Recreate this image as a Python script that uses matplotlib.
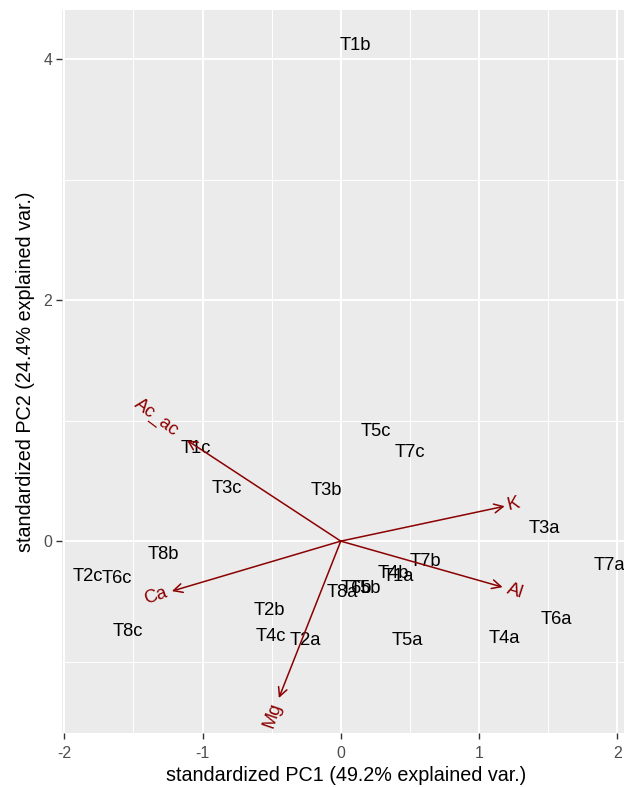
import numpy as np
import matplotlib
matplotlib.use("Agg")
import matplotlib.pyplot as plt

plt.rcParams['font.family'] = ['Liberation Sans', 'DejaVu Sans']
plt.rcParams['axes.unicode_minus'] = False

# Sample scores on the first two standardized principal components
samples = ["T1b", "T5c", "T7c", "T1c", "T3c", "T3b", "T3a", "T7a", "T8b", "T2c",
           "T6c", "T7b", "T4b", "T1a", "T6b", "T5b", "T8a", "T2b", "T4c", "T2a",
           "T8c", "T5a", "T4a", "T6a"]
pc1 = [0.108, 0.253, 0.499, -1.048, -0.824, -0.101, 1.475, 1.945, -1.287, -1.829,
       -1.620, 0.615, 0.383, 0.420, 0.110, 0.175, 0.014, -0.513, -0.506, -0.260,
       -1.540, 0.484, 1.186, 1.562]
pc2 = [4.116, 0.913, 0.739, 0.772, 0.440, 0.423, 0.108, -0.200, -0.108, -0.290,
       -0.307, -0.166, -0.266, -0.290, -0.390, -0.390, -0.423, -0.573, -0.788, -0.822,
       -0.747, -0.822, -0.805, -0.647]

# Variable loadings (arrow ends)
variables = ["Ac_ac", "Ca", "Mg", "K", "Al"]
load1 = [-1.113, -1.222, -0.448, 1.186, 1.171]
load2 = [0.838, -0.415, -1.303, 0.290, -0.382]

W, H = 624, 787
fig = plt.figure(figsize=(W / 100, H / 100), dpi=100)
ax = fig.add_axes([62 / W, (H - 733) / H, 569 / W, 723 / H])
ax.set_facecolor("#EBEBEB")
ax.set_xlim(-2.017, 2.1)
ax.set_ylim(-1.593, 4.41)

ax.set_xticks([-2, -1, 0, 1, 2])
ax.set_yticks([0, 2, 4])
ax.set_xticks([-1.5, -0.5, 0.5, 1.5], minor=True)
ax.set_yticks([-1, 1, 3], minor=True)
ax.grid(which="major", color="white", linewidth=1.4)
ax.grid(which="minor", color="white", linewidth=0.7)
ax.set_axisbelow(True)
for s in ax.spines.values():
    s.set_visible(False)
ax.tick_params(which="major", length=4, width=1, color="#333333",
               labelsize=11.4, labelcolor="#4D4D4D")
ax.tick_params(axis="x", which="major", pad=5)
ax.tick_params(axis="y", which="major", pad=3)
ax.tick_params(which="minor", length=0)

ax.set_xlabel("standardized PC1 (49.2% explained var.)", fontsize=14.2, labelpad=4)
ax.set_ylabel("standardized PC2 (24.4% explained var.)", fontsize=14.2, labelpad=6)

# Sample labels
for name, x, y in zip(samples, pc1, pc2):
    ax.text(x, y, name, ha="center", va="center", fontsize=13.2, color="black",
            clip_on=True)

# Loading arrows with rotated variable names
arrow_col = "#8B0000"
for name, x, y in zip(variables, load1, load2):
    ax.annotate("", xy=(x, y), xytext=(0, 0),
                arrowprops=dict(arrowstyle="->", color=arrow_col, lw=1.1,
                                mutation_scale=16, shrinkA=0, shrinkB=0))
    ang = np.degrees(np.arctan(y / x))
    est_w = len(name) * 0.55 * 13.2
    sgn = 1 if x > 0 else -1
    off = 0.25 * est_w * sgn
    dx = off * np.cos(np.radians(ang))
    dy = off * np.sin(np.radians(ang))
    ax.annotate(name, xy=(x, y), xytext=(dx, dy), textcoords="offset points",
                rotation=ang, rotation_mode="anchor",
                ha="left" if x > 0 else "right", va="center",
                fontsize=13.2, color=arrow_col)

fig.savefig("out.png", dpi=100)
